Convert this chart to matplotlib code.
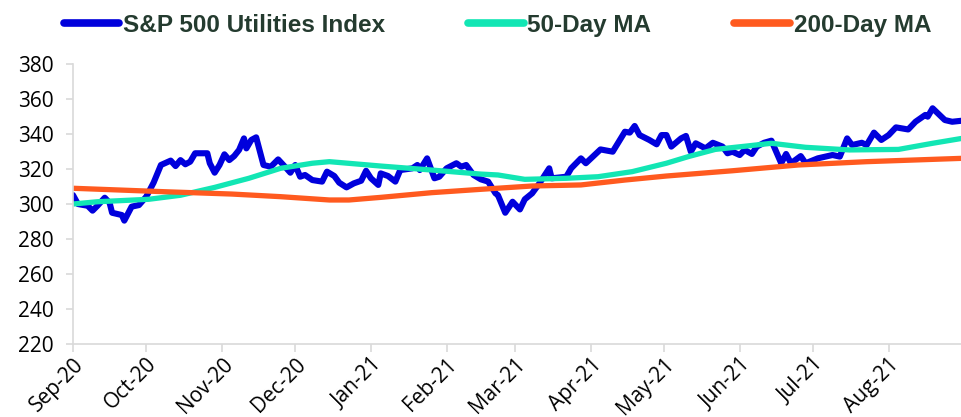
import pandas as pd
import matplotlib.pyplot as plt
import matplotlib.dates as mdates

# S&P 500 Utilities index
index_dates = [
    "2020-09-01", "2020-09-03", "2020-09-07", "2020-09-09", "2020-09-11", "2020-09-14",
    "2020-09-16", "2020-09-17", "2020-09-21", "2020-09-22", "2020-09-25", "2020-09-28",
    "2020-10-01", "2020-10-04", "2020-10-07", "2020-10-11", "2020-10-13", "2020-10-15",
    "2020-10-17", "2020-10-19", "2020-10-21", "2020-10-26", "2020-10-27", "2020-10-29",
    "2020-10-31", "2020-11-02", "2020-11-04", "2020-11-06", "2020-11-08", "2020-11-10",
    "2020-11-11", "2020-11-13", "2020-11-15", "2020-11-18", "2020-11-21", "2020-11-24",
    "2020-11-27", "2020-11-29", "2020-12-01", "2020-12-03", "2020-12-05", "2020-12-08",
    "2020-12-12", "2020-12-14", "2020-12-17", "2020-12-19", "2020-12-22", "2020-12-25",
    "2020-12-28", "2020-12-30", "2021-01-01", "2021-01-04", "2021-01-05", "2021-01-08",
    "2021-01-11", "2021-01-13", "2021-01-18", "2021-01-20", "2021-01-21", "2021-01-24",
    "2021-01-27", "2021-01-29", "2021-02-01", "2021-02-05", "2021-02-07", "2021-02-09",
    "2021-02-12", "2021-02-15", "2021-02-18", "2021-02-21", "2021-02-22", "2021-02-25",
    "2021-02-28", "2021-03-03", "2021-03-05", "2021-03-08", "2021-03-11", "2021-03-15",
    "2021-03-16", "2021-03-22", "2021-03-24", "2021-03-28", "2021-03-30", "2021-04-05",
    "2021-04-10", "2021-04-15", "2021-04-17", "2021-04-19", "2021-04-21", "2021-04-25",
    "2021-04-28", "2021-04-30", "2021-05-02", "2021-05-04", "2021-05-08", "2021-05-10",
    "2021-05-12", "2021-05-14", "2021-05-18", "2021-05-21", "2021-05-25", "2021-05-27",
    "2021-05-29", "2021-06-01", "2021-06-03", "2021-06-06", "2021-06-08", "2021-06-11",
    "2021-06-14", "2021-06-18", "2021-06-20", "2021-06-22", "2021-06-26", "2021-06-28",
    "2021-07-03", "2021-07-09", "2021-07-12", "2021-07-15", "2021-07-17", "2021-07-21",
    "2021-07-23", "2021-07-26", "2021-07-29", "2021-08-01", "2021-08-04", "2021-08-09",
    "2021-08-12", "2021-08-16", "2021-08-17", "2021-08-19", "2021-08-24", "2021-08-27",
    "2021-08-31",
]
index_values = [
    305.1, 300.0, 299.0, 296.2, 299.0, 303.6,
    300.6, 295.0, 293.7, 290.5, 298.5, 299.4,
    304.2, 312.2, 322.3, 324.8, 321.7, 325.1,
    322.7, 324.2, 329.0, 329.0, 323.3, 317.9,
    322.3, 328.4, 325.1, 327.4, 330.9, 337.5,
    331.8, 336.6, 338.1, 322.3, 321.3, 325.5,
    321.0, 317.9, 322.3, 315.6, 316.6, 313.7,
    312.8, 318.5, 316.0, 312.2, 309.5, 311.8,
    313.3, 319.0, 314.7, 310.9, 317.5, 316.0,
    312.8, 319.4, 320.4, 322.3, 319.4, 326.1,
    314.7, 315.6, 320.4, 323.3, 321.3, 322.3,
    316.6, 314.1, 312.8, 306.1, 305.1, 295.0,
    301.3, 296.9, 302.7, 306.1, 311.8, 320.4,
    314.7, 315.6, 320.4, 326.1, 323.3, 331.2,
    329.9, 341.3, 340.8, 344.6, 339.4, 336.6,
    334.1, 339.4, 339.4, 332.8, 337.5, 338.9,
    329.9, 334.7, 331.8, 335.0, 332.8, 329.0,
    329.9, 328.0, 330.9, 328.6, 332.8, 335.0,
    336.2, 323.3, 328.6, 323.3, 327.4, 323.3,
    326.1, 328.0, 327.1, 337.5, 333.7, 335.0,
    333.7, 340.8, 336.6, 339.4, 343.8, 342.6,
    347.0, 350.9, 349.9, 354.7, 348.0, 347.0,
    347.6,
]

# 50-day moving average
ma50_dates = [
    "2020-09-01", "2020-09-11", "2020-10-02", "2020-10-15", "2020-10-29", "2020-11-12",
    "2020-11-25", "2020-12-08", "2020-12-15", "2021-01-05", "2021-01-26", "2021-02-15",
    "2021-02-22", "2021-03-05", "2021-03-22", "2021-04-04", "2021-04-18", "2021-05-02",
    "2021-05-11", "2021-05-22", "2021-06-05", "2021-06-14", "2021-06-28", "2021-07-16",
    "2021-08-05", "2021-08-19", "2021-08-31",
]
ma50_values = [
    300.0, 301.3, 302.7, 305.0, 309.5, 314.7,
    320.4, 323.3, 324.2, 321.7, 319.4, 317.1,
    316.6, 314.1, 314.7, 315.6, 318.5, 323.3,
    327.1, 331.2, 333.3, 334.7, 332.4, 330.9,
    331.2, 334.7, 337.5,
]

# 200-day moving average
ma200_dates = [
    "2020-09-01", "2020-10-09", "2020-11-05", "2020-11-25", "2020-12-15", "2020-12-23",
    "2021-01-05", "2021-01-26", "2021-02-15", "2021-03-08", "2021-03-28", "2021-04-15",
    "2021-05-02", "2021-05-29", "2021-06-25", "2021-07-23", "2021-08-31",
]
ma200_values = [
    309.0, 307.0, 305.7, 304.2, 302.3, 302.3,
    303.8, 306.5, 308.4, 310.3, 310.9, 313.7,
    316.0, 319.0, 322.3, 324.2, 326.1,
]

series_names = ["S&P 500 Utilities Index", "50-Day MA", "200-Day MA"]
y_ticks = [220, 240, 260, 280, 300, 320, 340, 360, 380]

blue = "#0000dc"
green = "#12e6b4"
orange = "#ff5a1f"
text_dark = "#243b2f"
axis_grey = "#d9d9d9"

plt.rcParams["font.family"] = ["Open Sans", "DejaVu Sans"]

fig = plt.figure(figsize=(9.62, 4.17), dpi=100)
ax = fig.add_axes([0.0759, 0.175, 0.924, 0.6715])

ax.plot(pd.to_datetime(index_dates), index_values, color=blue, lw=4.4,
        solid_joinstyle="round", solid_capstyle="round", label=series_names[0])
ax.plot(pd.to_datetime(ma50_dates), ma50_values, color=green, lw=3.8,
        solid_capstyle="butt", label=series_names[1])
ax.plot(pd.to_datetime(ma200_dates), ma200_values, color=orange, lw=3.8,
        solid_capstyle="butt", label=series_names[2])

ax.set_xlim(pd.Timestamp("2020-09-01"), pd.Timestamp("2021-08-31"))
ax.set_ylim(220, 380)
ax.set_yticks(y_ticks)

ax.xaxis.set_major_locator(mdates.MonthLocator())
ax.xaxis.set_major_formatter(mdates.DateFormatter("%b-%y"))

for side in ["top", "right"]:
    ax.spines[side].set_visible(False)
for side in ["left", "bottom"]:
    ax.spines[side].set_color(axis_grey)
    ax.spines[side].set_linewidth(1.2)

ax.tick_params(axis="y", colors=axis_grey, labelcolor="black", labelsize=15,
               length=5, width=1.2, pad=9)
ax.tick_params(axis="x", colors=axis_grey, labelcolor="black", labelsize=15,
               length=6, width=1.2, pad=1)
for lbl in ax.get_xticklabels():
    lbl.set_rotation(45)
    lbl.set_ha("right")
    lbl.set_va("top")
    lbl.set_rotation_mode("anchor")

leg = fig.legend(loc="center", bbox_to_anchor=(0.517, 0.94), ncol=3, frameon=False,
                 prop={"family": ["Liberation Sans Narrow", "Liberation Sans"],
                       "weight": "bold", "size": 17.5},
                 handlelength=2.3, handletextpad=0.15, columnspacing=3.4)
for line in leg.get_lines():
    line.set_linewidth(5.5)
    line.set_solid_capstyle("round")
for txt in leg.get_texts():
    txt.set_color(text_dark)

fig.savefig("out.png", dpi=100)
